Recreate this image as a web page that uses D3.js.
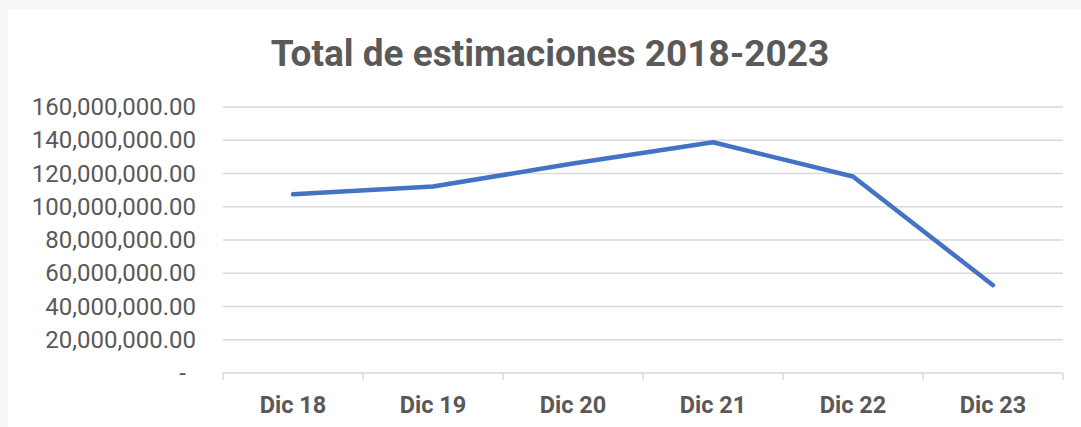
<!DOCTYPE html>
<html>
<head>
<meta charset="utf-8">
<script src="https://cdn.jsdelivr.net/npm/d3@7"></script>
<style>
  body { margin: 0; background: #f7f7f7; }
  #vis { position: absolute; left: 8px; top: 9px; }
</style>
</head>
<body>
<div id="vis"></div>
<script>
const categories = ["Dic 18", "Dic 19", "Dic 20", "Dic 21", "Dic 22", "Dic 23"];
const values = [107500000, 112200000, 126000000, 138800000, 118200000, 52800000];
const yTicks = [0, 20000000, 40000000, 60000000, 80000000, 100000000, 120000000, 140000000, 160000000];

const svg = d3.select("#vis").append("svg")
    .attr("width", 1073).attr("height", 418)
    .style("background", "white");

// plot area, in svg coords (page - offset)
const plotL = 215, plotR = 1055, plotT = 98, plotB = 364;

const x = d3.scaleBand().domain(categories).range([plotL, plotR]);
const y = d3.scaleLinear().domain([0, 160000000]).range([plotB, plotT]);

svg.append("text")
    .attr("x", 542).attr("y", 57)
    .attr("text-anchor", "middle")
    .style("font-family", "Roboto")
    .style("font-weight", "bold")
    .style("font-size", "37px")
    .style("fill", "#595959")
    .text("Total de estimaciones 2018-2023");

// gridlines
svg.append("g")
    .selectAll("line")
    .data(yTicks.filter(d => d > 0))
    .join("line")
    .attr("x1", plotL).attr("x2", plotR)
    .attr("y1", d => y(d)).attr("y2", d => y(d))
    .style("stroke", "#d9d9d9")
    .style("stroke-width", 1.5);

const fmt = d3.format(",.2f");
const yAxis = d3.axisLeft(y).tickValues(yTicks).tickSize(0).tickPadding(27)
    .tickFormat(d => d === 0 ? "-" : fmt(d));

svg.append("g")
    .attr("transform", `translate(${plotL}, 0)`)
    .call(yAxis)
    .call(g => g.select(".domain").remove())
    .call(g => g.selectAll("text")
        .style("font-family", "Roboto")
        .style("font-size", "24px")
        .style("fill", "#595959"))
    .call(g => g.selectAll(".tick").filter(d => d === 0).select("text").attr("dx", -10));

// x axis line with ticks at band edges
const xg = svg.append("g");
xg.append("line")
    .attr("x1", plotL).attr("x2", plotR)
    .attr("y1", plotB).attr("y2", plotB)
    .style("stroke", "#d9d9d9").style("stroke-width", 1.5);
const edges = categories.map(c => x(c)).concat([plotR]);
xg.selectAll(".edge")
    .data(edges)
    .join("line")
    .attr("class", "edge")
    .attr("x1", d => d).attr("x2", d => d)
    .attr("y1", plotB).attr("y2", plotB + 7)
    .style("stroke", "#d9d9d9").style("stroke-width", 1.5);

xg.selectAll(".xlabel")
    .data(categories)
    .join("text")
    .attr("class", "xlabel")
    .attr("x", d => x(d) + x.bandwidth() / 2)
    .attr("y", 404)
    .attr("text-anchor", "middle")
    .style("font-family", "Roboto")
    .style("font-weight", "bold")
    .style("font-size", "23.5px")
    .style("fill", "#595959")
    .text(d => d);

const line = d3.line()
    .x((d, i) => x(categories[i]) + x.bandwidth() / 2)
    .y(d => y(d));

svg.append("path")
    .datum(values)
    .attr("d", line)
    .style("fill", "none")
    .style("stroke", "#4472c4")
    .style("stroke-width", 4.5)
    .style("stroke-linecap", "round")
    .style("stroke-linejoin", "round");
</script>
</body>
</html>
